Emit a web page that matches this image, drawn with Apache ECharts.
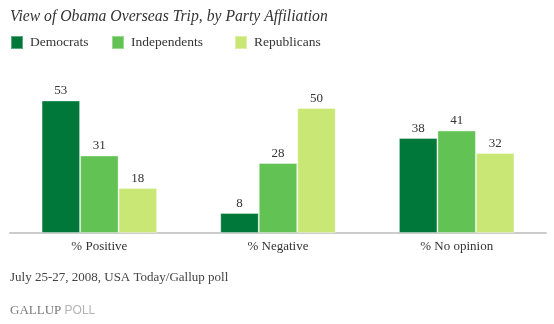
<!DOCTYPE html>
<html>
<head>
<meta charset="utf-8">
<script src="https://cdn.jsdelivr.net/npm/echarts@6/dist/echarts.min.js"></script>
<style>
  html, body { margin: 0; padding: 0; background: #ffffff; }
  #chart { width: 554px; height: 324px; }
</style>
</head>
<body>
<div id="chart"></div>
<script>
// Survey categories and party results (percent)
const categories = ['% Positive', '% Negative', '% No opinion'];
const democrats = [53, 8, 38];
const independents = [31, 28, 41];
const republicans = [18, 50, 32];
const seriesNames = ['Democrats', 'Independents', 'Republicans'];
const seriesColors = ['#00783a', '#62c354', '#c9e774'];
// left offset of each legend entry
const legendLefts = [10, 111, 234];

const serif = '"Liberation Serif", "DejaVu Serif", serif';
const seriesData = [democrats, independents, republicans];

const chart = echarts.init(document.getElementById('chart'), null, { renderer: 'canvas' });

chart.setOption({
  animation: false,
  backgroundColor: '#ffffff',
  title: {
    text: 'View of Obama Overseas Trip, by Party Affiliation',
    left: 5,
    top: 4,
    textStyle: { fontFamily: serif, fontStyle: 'italic', fontWeight: 'normal', fontSize: 15.7, color: '#333333' }
  },
  legend: seriesNames.map((name, i) => ({
    data: [name],
    left: legendLefts[i],
    top: 35,
    padding: 0,
    itemWidth: 12,
    itemHeight: 13,
    icon: 'rect',
    selectedMode: false,
    textStyle: { fontFamily: serif, fontSize: 13.5, color: '#333333', padding: [0, 0, 0, 2] }
  })),
  grid: { left: 10, right: 8, top: 83, bottom: 91, containLabel: false },
  xAxis: {
    type: 'category',
    data: categories,
    axisLine: { lineStyle: { color: '#cccccc', width: 2 } },
    axisTick: { show: false },
    axisLabel: { fontFamily: serif, fontSize: 13, color: '#333333', margin: 7 }
  },
  yAxis: {
    type: 'value',
    min: 0,
    max: 60,
    show: false,
    splitLine: { show: false }
  },
  series: seriesData.map((vals, i) => ({
    name: seriesNames[i],
    type: 'bar',
    data: vals,
    barWidth: 38.5,
    barGap: '0%',
    itemStyle: { color: seriesColors[i], borderColor: 'rgba(255,255,255,0.35)', borderWidth: 1 },
    label: {
      show: true,
      position: 'top',
      distance: 3,
      fontFamily: serif,
      fontSize: 13,
      color: '#333333'
    }
  })),
  graphic: [
    {
      type: 'text',
      left: 10,
      top: 271,
      style: { text: 'July 25-27, 2008, USA Today/Gallup poll', font: '13px ' + serif, fill: '#444444' }
    },
    {
      type: 'text',
      left: 10,
      top: 304,
      style: {
        text: '{a|GALLUP} {b|POLL}',
        rich: {
          a: { fontFamily: serif, fontSize: 13, fill: '#7a7a7a' },
          b: { fontFamily: '"Liberation Sans", Arial, sans-serif', fontSize: 12, fill: '#b4b4b4' }
        }
      }
    }
  ]
});
</script>
</body>
</html>
